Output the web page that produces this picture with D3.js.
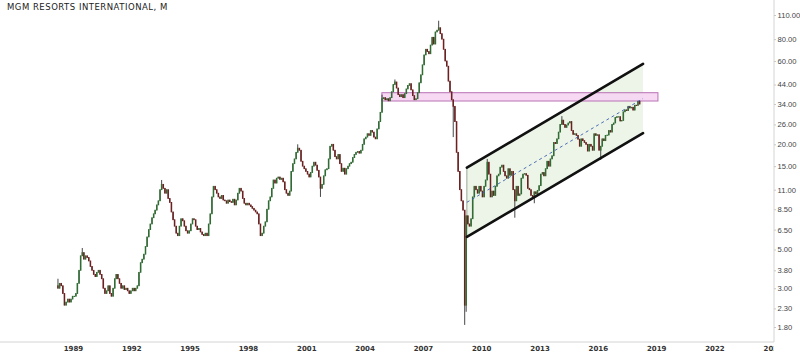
<!DOCTYPE html>
<html>
<head>
<meta charset="utf-8">
<script src="https://cdn.jsdelivr.net/npm/d3@7"></script>
<style>
body { margin: 0; background: #fff; }
svg { display: block; }
</style>
</head>
<body>
<svg id="chart" width="800" height="353"></svg>
<script>
// monthly closes, starting Mar 1988 (open = previous close)
var firstMonth = "1988-03";
var firstOpen = 3.1;
var closes88to97 = [
  3.0,3.2,3.1,2.8,2.4,2.5,2.6,2.5,2.6,2.7,
  2.7,2.8,3.2,3.8,4.6,4.8,4.4,4.6,4.5,4.3,4.0,3.8,
  3.6,3.5,3.7,3.8,3.6,3.4,3.0,2.8,2.9,3.1,2.8,2.7,
  3.0,3.4,3.6,3.4,3.2,3.0,3.1,2.95,3.0,2.9,2.8,2.9,
  3.0,2.9,3.0,3.1,3.7,4.2,4.4,4.7,5.2,5.9,6.5,7.0,
  7.6,8.0,8.4,9.0,9.5,11.0,11.8,11.2,10.5,11.0,9.8,9.3,
  8.2,7.4,6.8,6.2,6.0,6.8,7.5,7.3,6.8,6.4,6.2,6.4,
  7.0,7.5,7.4,6.8,6.5,6.6,6.3,6.1,6.0,6.2,6.0,7.0,
  8.0,10.0,11.5,11.0,10.5,10.0,9.8,10.2,9.6,9.5,9.2,9.6,
  9.4,9.3,9.7,9.0,9.6,10.5,11.2,10.8,9.8,9.2,9.0,9.2
];
var closes98to07 = [
  9.0,8.8,8.6,8.4,8.2,8.0,7.0,6.0,6.2,6.8,7.2,8.5,
  9.5,10.0,11.2,12.5,12.0,12.8,13.0,12.6,12.8,12.2,11.0,10.5,
  10.2,10.8,14.0,15.5,16.5,18.0,19.0,18.5,16.0,15.0,14.5,14.0,
  13.5,13.0,13.8,15.0,15.8,15.2,14.2,13.0,11.2,11.8,13.2,14.3,
  14.5,16.5,19.5,20.0,18.5,17.0,16.5,17.5,15.5,14.0,14.6,13.5,
  14.5,15.0,15.5,15.8,16.8,17.5,18.0,18.2,17.8,18.5,20.0,21.5,
  22.0,23.0,22.5,24.0,23.5,22.0,21.5,24.5,27.0,30.5,36.5,37.0,
  36.0,36.5,35.5,37.0,40.0,44.0,45.5,42.0,38.5,37.5,38.5,37.0,
  39.0,41.5,43.5,44.5,41.0,38.0,36.0,36.5,39.5,45.0,50.0,57.0,
  65.0,70.0,68.0,66.0,74.0,82.0,75.0,88.0,90.0,93.0,86.0,80.0
];
var closes08to18 = [
  70,60,56,46,40,36,33,27,18,14,11,9.5,
  8.4,2.4,7.8,7.0,6.8,7.5,10.0,11.5,11.0,10.5,11.5,10.8,
  10.0,11.5,12.5,15.8,13.5,10.0,10.8,10.2,11.5,13.2,13.5,14.8,
  15.2,14.0,13.2,12.8,14.5,13.3,14.0,11.0,9.5,11.5,10.2,10.4,
  12.8,13.5,13.6,13.3,11.2,11.0,10.2,10.0,10.7,10.4,10.9,11.6,
  13.5,13.8,13.2,14.5,16.0,15.0,16.5,17.2,20.5,20.2,21.5,23.5,
  26.0,27.5,26.0,25.0,25.8,26.5,27.0,24.0,22.8,23.0,22.5,21.4,
  19.5,21.5,21.0,20.5,20.0,18.3,20.0,19.5,18.5,23.0,22.5,22.7,
  18.5,19.5,21.5,21.0,22.5,22.6,24.0,23.5,26.0,26.5,28.5,28.8,
  28.8,27.2,27.4,30.7,31.5,31.2,33.0,32.3,32.6,31.4,33.5,33.4,
  35.3,34.0
];

// wicks that stick out past the body
var wickMonths = ["1988-03","1989-06","1993-07","2000-07","2001-09","2004-11","2005-07","2007-10","2008-07","2009-02","2009-03","2010-04","2011-09","2012-09","2014-02","2016-02"];
var wickLows   = [null,     null,     null,     null,     10.0,     null,     null,     null,     22,       1.85,     2.2,      null,     7.6,      9.2,      null,     16.3];
var wickHighs  = [3.4,      5.1,      12.5,     20.0,     null,     38.5,     47,       102,      null,     null,     null,     16.5,     null,     null,     29,       null];

// axis labels
var priceTicks = [110, 80, 60, 44, 34, 26, 20, 15, 11, 8.5, 6.5, 5, 3.8, 3, 2.3, 1.8];
var yearTicks = [1989, 1992, 1995, 1998, 2001, 2004, 2007, 2010, 2013, 2016, 2019, 2022, 2025];

// drawings: parallel channel and resistance zone
var channelDates = ["2009-03-28", "2018-04-20"];
var channelUpper = [14.7, 57.7];
var channelLower = [5.9, 23.2];
var zoneDates = ["2004-11-12", "2019-01-25"];
var zonePrices = [35.4, 39.5];

var plotRight = 774, plotBottom = 342;
var svg = d3.select("#chart");

var x = d3.scaleTime()
  .domain([new Date(1989, 0, 1), new Date(2022, 0, 1)])
  .range([73.5, 715]);
var y = d3.scaleLog()
  .domain([1.8, 110])
  .range([327, 15]);

var parseMonth = d3.timeParse("%Y-%m");
var parseDay = d3.timeParse("%Y-%m-%d");
var start = parseMonth(firstMonth);
var closes = [].concat(closes88to97, closes98to07, closes08to18);

var data = closes.map(function(c, i) {
  var o = i == 0 ? firstOpen : closes[i - 1];
  var m = d3.timeMonth.offset(start, i);
  return { month: d3.timeFormat("%Y-%m")(m), date: d3.timeDay.offset(m, 14),
           open: o, close: c, low: Math.min(o, c), high: Math.max(o, c) };
});
wickMonths.forEach(function(m, k) {
  var d = data.find(function(e) { return e.month == m; });
  if (!d) return;
  if (wickLows[k] != null) d.low = wickLows[k];
  if (wickHighs[k] != null) d.high = wickHighs[k];
});

var defs = svg.append("defs");
defs.append("clipPath").attr("id", "plot")
  .append("rect").attr("x", 0).attr("y", 0).attr("width", plotRight).attr("height", plotBottom);
defs.append("clipPath").attr("id", "xlab")
  .append("rect").attr("x", 0).attr("y", plotBottom).attr("width", plotRight).attr("height", 20);

var plot = svg.append("g").attr("clip-path", "url(#plot)");

// channel fill
var cd = channelDates.map(parseDay);
plot.append("path")
  .attr("d", "M" + x(cd[0]) + "," + y(channelUpper[0]) +
             "L" + x(cd[1]) + "," + y(channelUpper[1]) +
             "L" + x(cd[1]) + "," + y(channelLower[1]) +
             "L" + x(cd[0]) + "," + y(channelLower[0]) + "Z")
  .attr("fill", "#edf5e8")
  .attr("stroke", "none");
plot.append("line")
  .attr("x1", x(cd[0])).attr("x2", x(cd[0]))
  .attr("y1", y(channelUpper[0])).attr("y2", y(channelLower[0]))
  .attr("stroke", "#9aa79a").attr("stroke-width", 1);

// zone
var zd = zoneDates.map(parseDay);
plot.append("rect")
  .attr("x", x(zd[0]))
  .attr("y", y(zonePrices[1]))
  .attr("width", x(zd[1]) - x(zd[0]))
  .attr("height", y(zonePrices[0]) - y(zonePrices[1]))
  .attr("fill", "#f6d2f2")
  .attr("fill-opacity", 0.85)
  .attr("stroke", "#b872b4")
  .attr("stroke-width", 1);

// candles
var bw = 1.5;
var candles = plot.selectAll(".candle").data(data).enter().append("g");
candles.append("line")
  .attr("x1", function(d) { return x(d.date); })
  .attr("x2", function(d) { return x(d.date); })
  .attr("y1", function(d) { return y(d.high); })
  .attr("y2", function(d) { return y(d.low); })
  .attr("stroke", "#333")
  .attr("stroke-width", 0.9);
candles.append("rect")
  .attr("x", function(d) { return x(d.date) - bw / 2; })
  .attr("width", bw)
  .attr("y", function(d) { return y(Math.max(d.open, d.close)) - 0.4; })
  .attr("height", function(d) { return Math.max(1.2, Math.abs(y(d.open) - y(d.close)) + 0.8); })
  .attr("fill", function(d) { return d.close >= d.open ? "#2f6e32" : "#6e1f1f"; });

// channel lines + midline
[channelUpper, channelLower].forEach(function(p) {
  plot.append("line")
    .attr("x1", x(cd[0])).attr("y1", y(p[0]))
    .attr("x2", x(cd[1])).attr("y2", y(p[1]))
    .attr("stroke", "#111").attr("stroke-width", 2.6)
    .attr("stroke-linecap", "round");
});
plot.append("line")
  .attr("x1", x(cd[0])).attr("y1", y(Math.sqrt(channelUpper[0] * channelLower[0])))
  .attr("x2", x(cd[1])).attr("y2", y(Math.sqrt(channelUpper[1] * channelLower[1])))
  .attr("stroke", "#3a5fb0").attr("stroke-width", 0.9)
  .attr("stroke-dasharray", "3,3");

// axes
var yAxis = svg.append("g")
  .attr("transform", "translate(" + plotRight + ",0)")
  .call(d3.axisRight(y).tickValues(priceTicks).tickSize(2).tickPadding(1.5)
    .tickFormat(d3.format(".2f")));
yAxis.select(".domain").attr("stroke", "#d4d4d4").attr("d", "M0,0V" + plotBottom);
yAxis.selectAll(".tick line").attr("stroke", "#c8c8c8");
yAxis.selectAll("text").attr("fill", "#444")
  .style("font-family", "Liberation Sans").style("font-size", "7.6px");

svg.append("line")
  .attr("x1", 0).attr("x2", plotRight)
  .attr("y1", plotBottom).attr("y2", plotBottom)
  .attr("stroke", "#d4d4d4");
svg.append("g").attr("clip-path", "url(#xlab)")
  .selectAll("text").data(yearTicks).enter().append("text")
  .attr("x", function(d) { return x(new Date(d, 0, 1)); })
  .attr("y", 351)
  .attr("text-anchor", "middle")
  .attr("fill", "#333")
  .style("font-family", "DejaVu Sans")
  .style("font-size", "7px")
  .style("font-weight", "bold")
  .text(function(d) { return d; });

// title
svg.append("text")
  .attr("x", 7).attr("y", 10)
  .attr("fill", "#222")
  .style("font-family", "DejaVu Sans")
  .style("font-size", "8.5px")
  .style("letter-spacing", "0.5px")
  .text("MGM RESORTS INTERNATIONAL, M");
</script>
</body>
</html>
